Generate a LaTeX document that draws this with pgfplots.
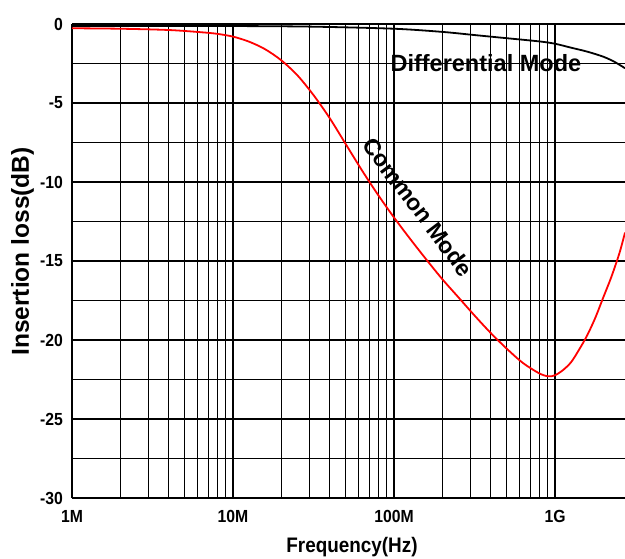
\documentclass[border=0pt]{standalone}
\usepackage{fontspec}
\setmainfont{Liberation Sans}
\newfontfamily\narrowfont{Liberation Sans}[FakeStretch=0.9]
\usepackage{pgfplots}
\pgfplotsset{compat=1.18}
\begin{document}
\begin{tikzpicture}
\useasboundingbox (0,0) rectangle (625bp,559bp);
\begin{axis}[
  at={(72bp,61bp)}, anchor=south west,
  scale only axis, width=553bp, height=474bp,
  xmode=log, xmin=1e6, xmax=2.72e9, ymin=-30, ymax=0,
  xtick={1e6,1e7,1e8,1e9}, xticklabels={1M,10M,100M,1G},
  ytick={-30,-25,-20,-15,-10,-5,0},
  yticklabels={-30,-25,-20,-15,-10,-5,0},
  minor ytick={-27.5,-22.5,-17.5,-12.5,-7.5,-2.5},
  grid=both,
  major grid style={black, line width=1.2bp},
  minor grid style={black, line width=1bp},
  axis x line*=box, axis y line*=left,
  axis line style={line width=1.8bp, black, -},
  tick align=inside,
  major tick length=6bp, minor tick length=6bp,
  every tick/.style={black, line width=1.8bp},
  major x tick style={draw=none}, minor x tick style={draw=none},
  xticklabel style={font=\narrowfont\bfseries\fontsize{17.5bp}{20bp}\selectfont, anchor=north, inner sep=0pt, yshift=-12bp},
  yticklabel style={font=\narrowfont\bfseries\fontsize{17.5bp}{20bp}\selectfont, anchor=east, inner sep=0pt, xshift=-9bp},
  xlabel={Frequency(Hz)}, ylabel={Insertion loss(dB)},
  every axis x label/.style={at={(axis description cs:0.5063,-0.1034)}, anchor=center, font=\narrowfont\bfseries\fontsize{21bp}{24bp}\selectfont},
  every axis y label/.style={at={(axis description cs:-0.0895,0.52)}, anchor=center, rotate=90, font=\bfseries\fontsize{24.5bp}{28bp}\selectfont},
  clip=true,
]
\addplot[black, line width=1.8bp, smooth] coordinates {
(1e6,-0.12) (1e7,-0.13) (3.162e7,-0.17) (1e8,-0.3) (1.995e8,-0.5)
(3.162e8,-0.7) (4.467e8,-0.85) (7.943e8,-1.1) (1e9,-1.25) (1.259e9,-1.5)
(1.585e9,-1.75) (1.995e9,-2.07) (2.344e9,-2.4) (2.72e9,-2.8)
};
\addplot[red, line width=1.8bp, smooth] coordinates {
(1e6,-0.27) (1.995e6,-0.30) (3.981e6,-0.38) (6.310e6,-0.52) (7.943e6,-0.62)
(1e7,-0.80) (1.259e7,-1.12) (1.585e7,-1.6) (1.995e7,-2.3) (2.512e7,-3.25)
(3.162e7,-4.5) (3.981e7,-5.95) (5.012e7,-7.6) (6.310e7,-9.25) (7.943e7,-10.8)
(1e8,-12.25) (1.259e8,-13.6) (1.585e8,-14.9) (1.995e8,-16.15) (2.512e8,-17.3)
(3.162e8,-18.45) (3.981e8,-19.55) (5.012e8,-20.55) (6.310e8,-21.45)
(7.943e8,-22.1) (9.06e8,-22.3) (1e9,-22.23) (1.122e9,-21.9) (1.259e9,-21.4)
(1.413e9,-20.6) (1.585e9,-19.7) (1.778e9,-18.6) (1.995e9,-17.3)
(2.239e9,-16.0) (2.512e9,-14.5) (2.72e9,-13.2)
};
\node[font=\bfseries\fontsize{23.5bp}{26bp}\selectfont, inner sep=0pt] at (axis cs:3.72e8,-2.47) {Differential Mode};
\node[font=\bfseries\fontsize{23bp}{26bp}\selectfont, inner sep=0pt, rotate=-53] at (axis cs:1.41e8,-11.58) {Common Mode};
\end{axis}
\end{tikzpicture}
\end{document}
